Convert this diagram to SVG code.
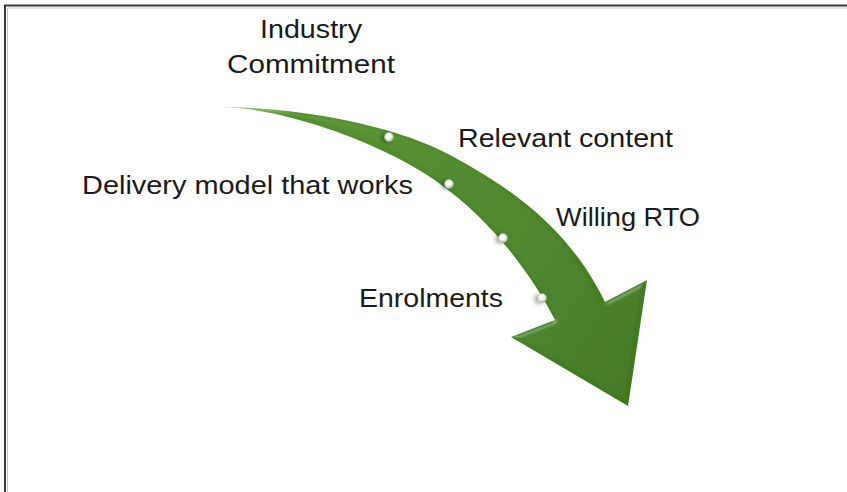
<svg xmlns="http://www.w3.org/2000/svg" width="847" height="492" viewBox="0 0 847 492">
  <style>
    .label { font-family: "Liberation Sans", Arial, sans-serif; font-size: 26px; fill: #1a1a1a; }
    .frame { stroke: #3a3a3a; stroke-width: 2; fill: none; }
    .bead { fill: url(#beadFill); stroke: #9fb59a; stroke-width: 0.6; }
  </style>
  <defs>
    <!-- body colour of the arrow: light at the thin tail, deeper green at the head -->
    <linearGradient id="arrowFill" gradientUnits="userSpaceOnUse" x1="222" y1="107" x2="640" y2="400">
      <stop offset="0" stop-color="#9ccc7c"/>
      <stop offset="0.12" stop-color="#55912f"/>
      <stop offset="0.6" stop-color="#4a8527"/>
      <stop offset="1" stop-color="#3f771f"/>
    </linearGradient>
    <radialGradient id="beadFill" cx="0.45" cy="0.4" r="0.6">
      <stop offset="0" stop-color="#ffffff"/>
      <stop offset="0.55" stop-color="#eef3ea"/>
      <stop offset="1" stop-color="#a9b8a3"/>
    </radialGradient>
    <!-- soft bevel lit from the upper left -->
    <filter id="bevel" x="-10%" y="-10%" width="120%" height="120%">
      <feGaussianBlur in="SourceAlpha" stdDeviation="2" result="blur"/>
      <feSpecularLighting in="blur" surfaceScale="3" specularConstant="0.5" specularExponent="22" lighting-color="#d8f5c4" result="spec">
        <feDistantLight azimuth="225" elevation="35"/>
      </feSpecularLighting>
      <feComposite in="spec" in2="SourceAlpha" operator="in" result="specIn"/>
      <feComposite in="SourceGraphic" in2="specIn" operator="arithmetic" k1="0" k2="1" k3="0.45" k4="0"/>
    </filter>
    <filter id="beadShadow" x="-100%" y="-100%" width="300%" height="300%">
      <feGaussianBlur in="SourceAlpha" stdDeviation="2"/>
      <feOffset dx="-3" dy="1" result="sh"/>
      <feComponentTransfer in="sh" result="shf"><feFuncA type="linear" slope="0.35"/></feComponentTransfer>
      <feMerge><feMergeNode in="shf"/><feMergeNode in="SourceGraphic"/></feMerge>
    </filter>
  </defs>

  <rect width="847" height="492" fill="#ffffff"/>

  <!-- frame: top and left edges -->
  <path class="frame" d="M5,492 V5.5 H847"/>
  <path d="M7.5,492 V8 H847" stroke="#c8c8c8" stroke-width="1" fill="none"/>

  <g id="connectors">
    <g id="flow-arrow">
      <path filter="url(#bevel)" fill="url(#arrowFill)"
            d="M222,107 C310,108 400,128 450,155 C515,190 570,230 605,302 L647,280 L628,406 L511,337 L555,320 C535,280 495,225 448,190 C400,150 290,108 222,107 Z"/>
      <g filter="url(#beadShadow)">
        <circle class="bead" cx="389" cy="137" r="4.5"/>
        <circle class="bead" cx="449" cy="184" r="4.5"/>
        <circle class="bead" cx="503" cy="238" r="4.5"/>
        <circle class="bead" cx="542" cy="298" r="4.5"/>
      </g>
    </g>
  </g>

  <g id="industry-commitment">
    <text class="label" x="311" y="37.5" text-anchor="middle" textLength="102" lengthAdjust="spacingAndGlyphs">Industry</text>
    <text class="label" x="311" y="73" text-anchor="middle" textLength="168" lengthAdjust="spacingAndGlyphs">Commitment</text>
  </g>
  <g id="relevant-content">
    <text class="label" x="458" y="146.5" textLength="215" lengthAdjust="spacingAndGlyphs">Relevant content</text>
  </g>
  <g id="delivery-model">
    <text class="label" x="82" y="193.5" textLength="331" lengthAdjust="spacingAndGlyphs">Delivery model that works</text>
  </g>
  <g id="willing-rto">
    <text class="label" x="556" y="225.5" textLength="144" lengthAdjust="spacingAndGlyphs">Willing RTO</text>
  </g>
  <g id="enrolments">
    <text class="label" x="359" y="306.5" textLength="144" lengthAdjust="spacingAndGlyphs">Enrolments</text>
  </g>
</svg>
